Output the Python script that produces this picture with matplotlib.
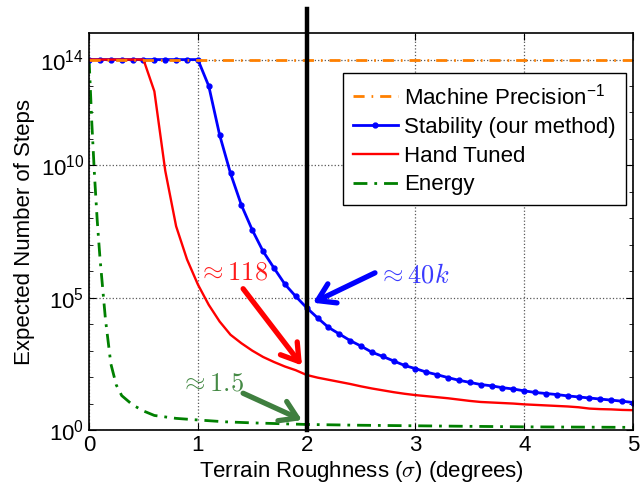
import matplotlib
matplotlib.use("Agg")
import matplotlib.pyplot as plt
import numpy as np

plt.rcParams['font.family'] = ['Liberation Sans', 'DejaVu Sans']
plt.rcParams['mathtext.fontset'] = 'custom'
plt.rcParams['mathtext.rm'] = 'Liberation Sans'
plt.rcParams['mathtext.it'] = 'Liberation Sans:italic'
plt.rcParams['font.size'] = 16

# data (y values given as log10 exponents)
sigma_blue = [round(0.1 * i, 1) for i in range(51)]
stability_exp = [14, 14, 14, 14, 14, 14, 14, 14, 14, 14, 14,
                 13.0, 11.15, 9.7, 8.5, 7.56, 6.75, 6.12, 5.51, 5.05, 4.62,
                 4.24, 3.88, 3.63, 3.38, 3.17, 2.94, 2.78, 2.61, 2.44, 2.32,
                 2.19, 2.09, 1.98, 1.88, 1.80, 1.72, 1.67, 1.60, 1.55, 1.48,
                 1.42, 1.38, 1.34, 1.29, 1.25, 1.21, 1.17, 1.13, 1.09, 1.04]

sigma_red = [round(0.1 * i, 1) for i in range(51)]
hand_exp = [14, 14, 14, 14, 14, 14,
            12.8, 9.8, 7.7, 6.45, 5.5, 4.73, 4.1, 3.6, 3.28, 3.0,
            2.76, 2.57, 2.4, 2.26, 2.08, 1.98, 1.9, 1.82, 1.74, 1.65,
            1.57, 1.5, 1.43, 1.37, 1.32, 1.28, 1.24, 1.2, 1.15, 1.1,
            1.06, 1.04, 1.02, 1.0, 0.97, 0.95, 0.93, 0.91, 0.89, 0.86,
            0.81, 0.79, 0.78, 0.76, 0.75]

sigma_green = [0, 0.025, 0.05, 0.075, 0.1, 0.15, 0.2, 0.25, 0.3, 0.4, 0.5,
               0.6, 0.8, 1.0, 1.25, 1.5, 1.75, 2.0, 2.5, 3.0, 3.5, 4.0, 4.5, 5.0]
energy_exp = [14, 11.6, 9.6, 7.9, 6.5, 4.2, 2.5, 1.7, 1.3, 0.95, 0.72,
              0.55, 0.44, 0.38, 0.31, 0.27, 0.24, 0.21, 0.18, 0.16, 0.14,
              0.12, 0.11, 0.1]

machine_x = [0, 5]
machine_y = [1e14, 1e14]

fig = plt.figure(figsize=(6.41, 4.87), dpi=100)
ax = fig.add_axes([0.139, 0.117, 0.8485, 0.815])

l_grn, = ax.plot(sigma_green, 10 ** np.array(energy_exp), color='#008000', lw=2,
                 dashes=(5, 2.5, 1, 2.5), label='Energy')
l_blue, = ax.plot(sigma_blue, 10 ** np.array(stability_exp), color='#0000FF', lw=2,
                  marker='.', markersize=7, label='Stability (our method)')
l_red, = ax.plot(sigma_red, 10 ** np.array(hand_exp), color='#FF0000', lw=1.7,
                 label='Hand Tuned')
l_org, = ax.plot(machine_x, machine_y, color='#FF8000', lw=2,
                 dashes=(4, 2.5, 0.6, 2.5), label='Machine Precision$^{-1}$')

# thick marker line at sigma = 2
ax.plot([2, 2], [1, 10 ** 15.9], color='black', lw=3.2, clip_on=False, zorder=5)

ax.set_yscale('log')
ax.set_xlim(0, 5)
ax.set_ylim(1, 1e15)
ax.set_xticks([0, 1, 2, 3, 4, 5])
ax.set_yticks([1, 1e5, 1e10, 1e14])
ax.set_yticklabels(['$10^{0}$', '$10^{5}$', '$10^{10}$', '$10^{14}$'])
ax.set_yticks([10.0 ** k for k in range(1, 15) if k not in (5, 10, 14)], minor=True)
ax.yaxis.set_minor_formatter(matplotlib.ticker.NullFormatter())
ax.tick_params(which='both', direction='in', top=True, right=True, labelsize=16)
ax.tick_params(which='major', length=5, width=0.8)
ax.tick_params(which='minor', length=3, width=0.6)
ax.grid(True, which='major', linestyle=':', color='0.35', lw=0.9)
for s in ax.spines.values():
    s.set_linewidth(1.2)

ax.set_xlabel('Terrain Roughness ($\\sigma$) (degrees)', math_fontfamily='cm', labelpad=2)
ax.set_ylabel('Expected Number of Steps', labelpad=4)

leg = ax.legend(handles=[l_org, l_blue, l_red, l_grn], loc='upper right',
                bbox_to_anchor=(0.987, 0.899), borderaxespad=0, fancybox=False,
                edgecolor='black', framealpha=1, handlelength=2.0,
                handletextpad=0.3, labelspacing=0.35, borderpad=0.45)
leg.get_frame().set_linewidth(1.0)

# annotations
arrow = '->,head_length=0.6,head_width=0.38'
ax.text(1.0, 10 ** 5.94, r'$\approx 118$', color='#FF1A1A', fontsize=19,
        math_fontfamily='cm', ha='left', va='center')
ax.annotate('', xy=(1.957, 10 ** 2.44), xytext=(1.416, 10 ** 5.34),
            arrowprops=dict(arrowstyle=arrow, color='#FF0000', lw=3.8,
                            shrinkA=0, shrinkB=0, mutation_scale=20))
ax.text(2.656, 10 ** 5.83, r'$\approx 40k$', color='#3A3AFF', fontsize=19,
        math_fontfamily='cm', ha='left', va='center')
ax.annotate('', xy=(2.058, 10 ** 4.81), xytext=(2.628, 10 ** 5.94),
            arrowprops=dict(arrowstyle=arrow, color='#0000FF', lw=3.8,
                            shrinkA=0, shrinkB=0, mutation_scale=20))
ax.text(0.834, 10 ** 1.77, r'$\approx 1.5$', color='#458A45', fontsize=19,
        math_fontfamily='cm', ha='left', va='center')
ax.annotate('', xy=(1.957, 10 ** 0.376), xytext=(1.416, 10 ** 1.39),
            arrowprops=dict(arrowstyle=arrow, color='#3F7F3F', lw=3.8,
                            shrinkA=0, shrinkB=0, mutation_scale=20))

fig.savefig('out.png', dpi=100)
